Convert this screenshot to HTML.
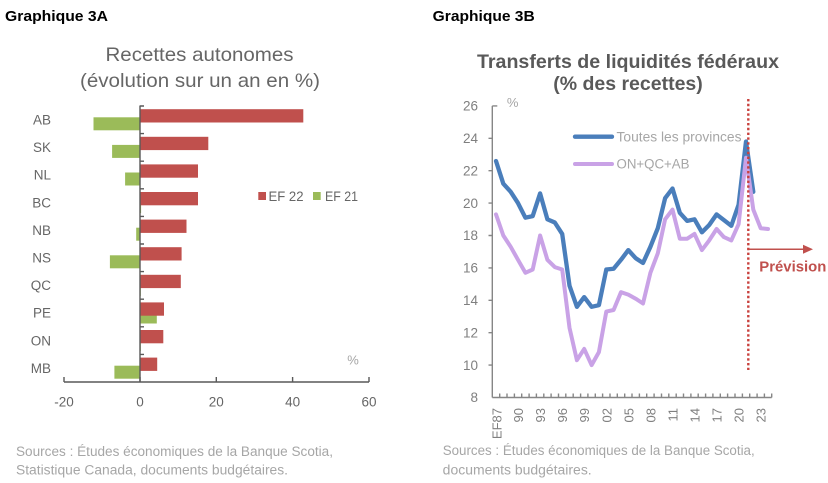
<!DOCTYPE html>
<html><head><meta charset="utf-8"><style>
html,body{margin:0;padding:0;background:#fff;}
svg{display:block;}
text{font-family:"Liberation Sans",sans-serif;}
</style></head><body>
<svg width="828" height="483" viewBox="0 0 828 483" xmlns="http://www.w3.org/2000/svg">
<rect width="828" height="483" fill="#fff"/>

<!-- ===== LEFT CHART ===== -->
<text x="5" y="21" font-size="15" font-weight="bold" fill="#000" textLength="103" lengthAdjust="spacingAndGlyphs">Graphique 3A</text>
<text x="199.5" y="61" font-size="19.5" fill="#666" text-anchor="middle" textLength="188" lengthAdjust="spacingAndGlyphs">Recettes autonomes</text>
<text x="200" y="87" font-size="19.5" fill="#666" text-anchor="middle" textLength="240" lengthAdjust="spacingAndGlyphs">(évolution sur un an en %)</text>

<!-- bars: green (EF21) then red (EF22) -->
<g fill="#9bbb59">
<rect x="93.5" y="117.3" width="46.5" height="13"/>
<rect x="112.1" y="144.9" width="27.9" height="13"/>
<rect x="125.1" y="172.5" width="14.9" height="13"/>
<rect x="140" y="200.1" width="1.1" height="13"/>
<rect x="136.2" y="227.7" width="3.8" height="13"/>
<rect x="109.9" y="255.3" width="30.1" height="13"/>
<rect x="140" y="282.9" width="0.8" height="13"/>
<rect x="140" y="310.5" width="16.8" height="13"/>
<rect x="140" y="338.1" width="0.8" height="13"/>
<rect x="114.4" y="365.7" width="25.6" height="13"/>
</g>
<g fill="#c0504d">
<rect x="140" y="109.2" width="163.3" height="13.3"/>
<rect x="140" y="136.8" width="68.3" height="13.3"/>
<rect x="140" y="164.4" width="58" height="13.3"/>
<rect x="140" y="192.0" width="58" height="13.3"/>
<rect x="140" y="219.6" width="46.5" height="13.3"/>
<rect x="140" y="247.2" width="41.6" height="13.3"/>
<rect x="140" y="274.8" width="40.8" height="13.3"/>
<rect x="140" y="302.4" width="24" height="13.3"/>
<rect x="140" y="330.0" width="23.3" height="13.3"/>
<rect x="140" y="357.6" width="17.2" height="13.3"/>
</g>

<!-- axes -->
<g stroke="#595959" stroke-width="1.4" fill="none">
<line x1="140" y1="105.5" x2="140" y2="382"/>
<line x1="64" y1="382" x2="369" y2="382"/>
<path d="M140 106H144M140 133.6H144M140 161.2H144M140 188.8H144M140 216.4H144M140 244H144M140 271.6H144M140 299.2H144M140 326.8H144M140 354.4H144"/>
<path d="M64 377V382M140 377V382M216.3 377V382M292.6 377V382M369 377V382"/>
</g>

<g font-size="13.5" fill="#666" text-anchor="end">
<text x="51" y="124.5">AB</text>
<text x="51" y="152.1">SK</text>
<text x="51" y="179.7">NL</text>
<text x="51" y="207.3">BC</text>
<text x="51" y="234.9">NB</text>
<text x="51" y="262.5">NS</text>
<text x="51" y="290.1">QC</text>
<text x="51" y="317.7">PE</text>
<text x="51" y="345.3">ON</text>
<text x="51" y="372.9">MB</text>
</g>
<g font-size="13.5" fill="#666" text-anchor="middle">
<text x="64" y="406.5">-20</text>
<text x="140" y="406.5">0</text>
<text x="216.3" y="406.5">20</text>
<text x="292.6" y="406.5">40</text>
<text x="369" y="406.5">60</text>
</g>
<text x="353" y="364.5" font-size="13" fill="#a6a6a6" text-anchor="middle">%</text>

<!-- legend left -->
<rect x="258.3" y="192" width="7.7" height="8" fill="#c0504d"/>
<text x="268.5" y="200.8" font-size="13.5" fill="#666" textLength="35" lengthAdjust="spacingAndGlyphs">EF 22</text>
<rect x="313" y="192" width="7.7" height="8" fill="#9bbb59"/>
<text x="325" y="200.8" font-size="13.5" fill="#666" textLength="33" lengthAdjust="spacingAndGlyphs">EF 21</text>

<text x="16" y="456" font-size="13.5" fill="#a6a6a6" textLength="317" lengthAdjust="spacingAndGlyphs">Sources : Études économiques de la Banque Scotia,</text>
<text x="16" y="474.5" font-size="13.5" fill="#a6a6a6" textLength="272" lengthAdjust="spacingAndGlyphs">Statistique Canada, documents budgétaires.</text>

<!-- ===== RIGHT CHART ===== -->
<text x="432.7" y="21" font-size="15" font-weight="bold" fill="#000" textLength="102" lengthAdjust="spacingAndGlyphs">Graphique 3B</text>
<text x="628" y="68" font-size="19.5" font-weight="bold" fill="#595959" text-anchor="middle" textLength="302" lengthAdjust="spacingAndGlyphs">Transferts de liquidités fédéraux</text>
<text x="628" y="90" font-size="19.5" font-weight="bold" fill="#595959" text-anchor="middle">(% des recettes)</text>

<!-- y labels -->
<g font-size="13.5" fill="#7f7f7f" text-anchor="end">
<text x="478" y="110.6">26</text>
<text x="478" y="143">24</text>
<text x="478" y="175.4">22</text>
<text x="478" y="207.8">20</text>
<text x="478" y="240.2">18</text>
<text x="478" y="272.6">16</text>
<text x="478" y="305">14</text>
<text x="478" y="337.4">12</text>
<text x="478" y="369.8">10</text>
<text x="478" y="402.2">8</text>
</g>
<text x="512.7" y="107" font-size="13" fill="#a6a6a6" text-anchor="middle">%</text>

<!-- axes right -->
<g stroke="#868686" stroke-width="1.4" fill="none">
<line x1="492.3" y1="105.9" x2="492.3" y2="397.5"/>
<line x1="492.3" y1="397.5" x2="771.7" y2="397.5"/>
<path d="M492.3 105.9H497.3M488.5 138.3H492.3M488.5 170.7H492.3M488.5 203.1H492.3M488.5 235.5H492.3M488.5 267.9H492.3M488.5 300.3H492.3M488.5 332.7H492.3M488.5 365.1H492.3"/>
<path d="M499.7 393.5V397.5M507 393.5V397.5M514.4 393.5V397.5M521.7 393.5V397.5M529.1 393.5V397.5M536.4 393.5V397.5M543.8 393.5V397.5M551.1 393.5V397.5M558.5 393.5V397.5M565.8 393.5V397.5M573.2 393.5V397.5M580.6 393.5V397.5M587.9 393.5V397.5M595.3 393.5V397.5M602.6 393.5V397.5M610 393.5V397.5M617.3 393.5V397.5M624.7 393.5V397.5M632 393.5V397.5M639.4 393.5V397.5M646.7 393.5V397.5M654.1 393.5V397.5M661.5 393.5V397.5M668.8 393.5V397.5M676.2 393.5V397.5M683.5 393.5V397.5M690.9 393.5V397.5M698.2 393.5V397.5M705.6 393.5V397.5M712.9 393.5V397.5M720.3 393.5V397.5M727.6 393.5V397.5M735 393.5V397.5M742.4 393.5V397.5M749.7 393.5V397.5M757.1 393.5V397.5M764.4 393.5V397.5M771.7 393.5V397.5"/>
</g>

<!-- x labels rotated -->
<g font-size="13" fill="#7f7f7f" text-anchor="end">
<text transform="translate(501.5,408) rotate(-90)">EF87</text>
<text transform="translate(523,408) rotate(-90)">90</text>
<text transform="translate(545.1,408) rotate(-90)">93</text>
<text transform="translate(567.2,408) rotate(-90)">96</text>
<text transform="translate(589.2,408) rotate(-90)">99</text>
<text transform="translate(611.3,408) rotate(-90)">02</text>
<text transform="translate(633.3,408) rotate(-90)">05</text>
<text transform="translate(655.4,408) rotate(-90)">08</text>
<text transform="translate(677.5,408) rotate(-90)">11</text>
<text transform="translate(699.5,408) rotate(-90)">14</text>
<text transform="translate(721.6,408) rotate(-90)">17</text>
<text transform="translate(743.6,408) rotate(-90)">20</text>
<text transform="translate(765.7,408) rotate(-90)">23</text>
</g>

<!-- series -->
<polyline fill="none" stroke="#4a7ebb" stroke-width="4.3" stroke-linejoin="round" stroke-linecap="round" points="496.0,161.0 503.3,183.7 510.7,191.8 518.0,203.1 525.4,217.7 532.7,216.1 540.1,193.4 547.4,219.3 554.8,222.5 562.2,233.9 569.5,285.7 576.9,306.8 584.2,297.1 591.6,306.8 598.9,305.2 606.3,269.5 613.6,268.7 621.0,259.8 628.3,250.1 635.7,258.2 643.0,263.0 650.4,246.8 657.8,228.2 665.1,198.2 672.5,188.5 679.8,212.8 687.2,220.9 694.5,219.3 701.9,232.3 709.2,225.0 716.6,214.4 723.9,220.1 731.3,225.8 738.6,204.7 746.0,141.5 753.3,191.8"/>
<polyline fill="none" stroke="#c9a2e6" stroke-width="4" stroke-linejoin="round" stroke-linecap="round" points="496.0,214.4 503.3,235.5 510.7,246.8 518.0,259.8 525.4,272.8 532.7,269.5 540.1,235.5 547.4,259.8 554.8,267.1 562.2,269.5 569.5,327.8 576.9,360.2 584.2,348.9 591.6,365.1 598.9,352.1 606.3,311.6 613.6,310.0 621.0,292.2 628.3,294.6 635.7,298.7 643.0,303.5 650.4,272.8 657.8,253.3 665.1,219.3 672.5,209.6 679.8,238.7 687.2,238.7 694.5,233.9 701.9,250.1 709.2,240.4 716.6,229.0 723.9,237.1 731.3,240.4 738.6,224.2 746.0,157.7 753.3,209.6 760.7,228.2 768.0,229.0"/>

<!-- forecast line -->
<line x1="748.3" y1="99" x2="748.3" y2="370" stroke="#c9413e" stroke-width="2.4" stroke-dasharray="2.4 2.4"/>
<line x1="749" y1="249.3" x2="805" y2="249.3" stroke="#c0504d" stroke-width="1.5"/>
<polygon points="813,249.3 803,244.8 803,253.8" fill="#c0504d"/>
<text x="759.3" y="271.5" font-size="15" font-weight="bold" fill="#c0504d" textLength="67" lengthAdjust="spacingAndGlyphs">Prévision</text>

<!-- legend right -->
<line x1="575" y1="136.7" x2="612" y2="136.7" stroke="#4a7ebb" stroke-width="4.3" stroke-linecap="round"/>
<text x="616.5" y="141.3" font-size="13.5" fill="#a6a6a6" textLength="125" lengthAdjust="spacingAndGlyphs">Toutes les provinces</text>
<line x1="575" y1="164" x2="612" y2="164" stroke="#c9a2e6" stroke-width="4" stroke-linecap="round"/>
<text x="616.5" y="168.6" font-size="13.5" fill="#a6a6a6" textLength="73" lengthAdjust="spacingAndGlyphs">ON+QC+AB</text>

<text x="442.7" y="455" font-size="13.5" fill="#a6a6a6" textLength="312" lengthAdjust="spacingAndGlyphs">Sources : Études économiques de la Banque Scotia,</text>
<text x="442.7" y="474.5" font-size="13.5" fill="#a6a6a6" textLength="149" lengthAdjust="spacingAndGlyphs">documents budgétaires.</text>
</svg>
</body></html>
